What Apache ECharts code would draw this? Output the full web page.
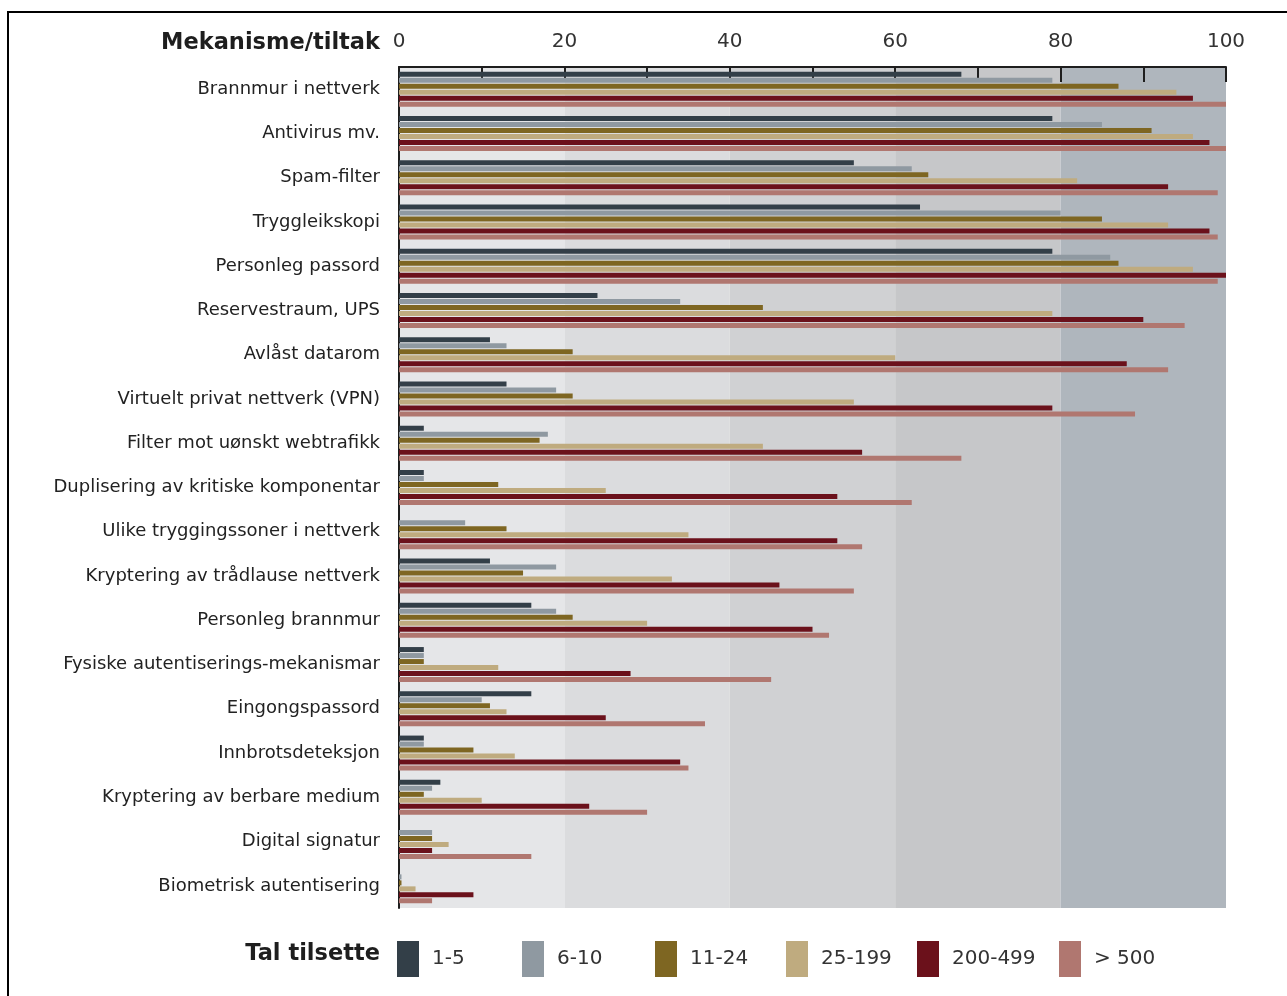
<!DOCTYPE html>
<html>
<head>
<meta charset="utf-8">
<script src="https://cdn.jsdelivr.net/npm/echarts@6/dist/echarts.min.js"></script>
<style>
  html, body { margin: 0; padding: 0; background: #fff; }
  #chart { width: 1287px; height: 996px; }
</style>
</head>
<body>
<div id="chart"></div>
<script>
// categories (top to bottom)
const categories = [
  'Brannmur i nettverk',
  'Antivirus mv.',
  'Spam-filter',
  'Tryggleikskopi',
  'Personleg passord',
  'Reservestraum, UPS',
  'Avlåst datarom',
  'Virtuelt privat nettverk (VPN)',
  'Filter mot uønskt webtrafikk',
  'Duplisering av kritiske komponentar',
  'Ulike tryggingssoner i nettverk',
  'Kryptering av trådlause nettverk',
  'Personleg brannmur',
  'Fysiske autentiserings-mekanismar',
  'Eingongspassord',
  'Innbrotsdeteksjon',
  'Kryptering av berbare medium',
  'Digital signatur',
  'Biometrisk autentisering'
];

const groupNames = ['1-5', '6-10', '11-24', '25-199', '200-499', '> 500'];

const size1to5     = [68, 79, 55, 63, 79, 24, 11, 13, 3, 3, 0, 11, 16, 3, 16, 3, 5, 0, 0];
const size6to10    = [79, 85, 62, 80, 86, 34, 13, 19, 18, 3, 8, 19, 19, 3, 10, 3, 4, 4, 0.3];
const size11to24   = [87, 91, 64, 85, 87, 44, 21, 21, 17, 12, 13, 15, 21, 3, 11, 9, 3, 4, 0.3];
const size25to199  = [94, 96, 82, 93, 96, 79, 60, 55, 44, 25, 35, 33, 30, 12, 13, 14, 10, 6, 2];
const size200to499 = [96, 98, 93, 98, 100, 90, 88, 79, 56, 53, 53, 46, 50, 28, 25, 34, 23, 4, 9];
const size500plus  = [100, 100, 99, 99, 99, 95, 93, 89, 68, 62, 56, 55, 52, 45, 37, 35, 30, 16, 4];

const seriesData = [size1to5, size6to10, size11to24, size25to199, size200to499, size500plus];
const colors = ['#333f48', '#8f99a1', '#7e6622', '#bfab7f', '#6b111b', '#b07770'];

// legend x positions
const legendLeft = [397, 522, 655, 786, 917, 1059];

const FONT = 'DejaVu Sans';

const chartDom = document.getElementById('chart');
const myChart = echarts.init(chartDom, null, { renderer: 'canvas' });

let option = {
  animation: false,
  textStyle: { fontFamily: FONT },
  grid: {
    left: 399,
    right: 61,
    top: 67,
    bottom: 88,
    containLabel: false
  },
  title: [
    {
      text: 'Mekanisme/tiltak',
      right: 907,
      top: 32,
      padding: 0,
      textStyle: { fontFamily: FONT, fontWeight: 'bold', fontSize: 22.5, color: '#1e1e1e' }
    },
    {
      text: 'Tal tilsette',
      right: 907,
      top: 943,
      padding: 0,
      textStyle: { fontFamily: FONT, fontWeight: 'bold', fontSize: 22.5, color: '#1e1e1e' }
    }
  ],
  legend: groupNames.map((name, i) => ({
    data: [{ name: name, icon: 'rect' }],
    left: legendLeft[i],
    top: 941,
    padding: 0,
    itemWidth: 22,
    itemHeight: 36,
    textStyle: {
      fontFamily: FONT,
      fontSize: 20,
      color: '#333',
      padding: [14, 0, 0, 8]
    },
    selectedMode: false
  })),
  xAxis: {
    type: 'value',
    position: 'top',
    min: 0,
    max: 100,
    interval: 10,
    axisLine: { show: true, lineStyle: { color: '#1e1e1e', width: 2 } },
    axisTick: { show: true, inside: true, length: 15, lineStyle: { color: '#1e1e1e', width: 2 } },
    axisLabel: {
      margin: 15,
      fontSize: 20,
      color: '#333',
      formatter: function (v) { return v % 20 === 0 ? String(v) : ''; }
    },
    splitLine: { show: false },
    splitArea: {
      show: true,
      areaStyle: {
        color: ['#e5e6e8', '#e5e6e8', '#dbdcde', '#dbdcde', '#d0d1d3',
                '#d0d1d3', '#c6c7c9', '#c6c7c9', '#afb6bd', '#afb6bd']
      }
    }
  },
  yAxis: {
    type: 'category',
    inverse: true,
    data: categories,
    axisLine: { show: true, lineStyle: { color: '#1e1e1e', width: 2 } },
    axisTick: { show: false },
    axisLabel: { margin: 19, fontSize: 18, color: '#222', padding: [4, 0, 0, 0] }
  },
  series: groupNames.map((name, i) => ({
    name: name,
    type: 'bar',
    data: seriesData[i],
    barWidth: 5,
    barGap: '20%',
    itemStyle: { color: colors[i] }
  })),
  graphic: [
    {
      type: 'polyline',
      shape: { points: [[8, 996], [8, 12], [1287, 12]] },
      style: { stroke: '#000', lineWidth: 2, fill: null },
      silent: true
    }
  ]
};

option && myChart.setOption(option);
</script>
</body>
</html>
